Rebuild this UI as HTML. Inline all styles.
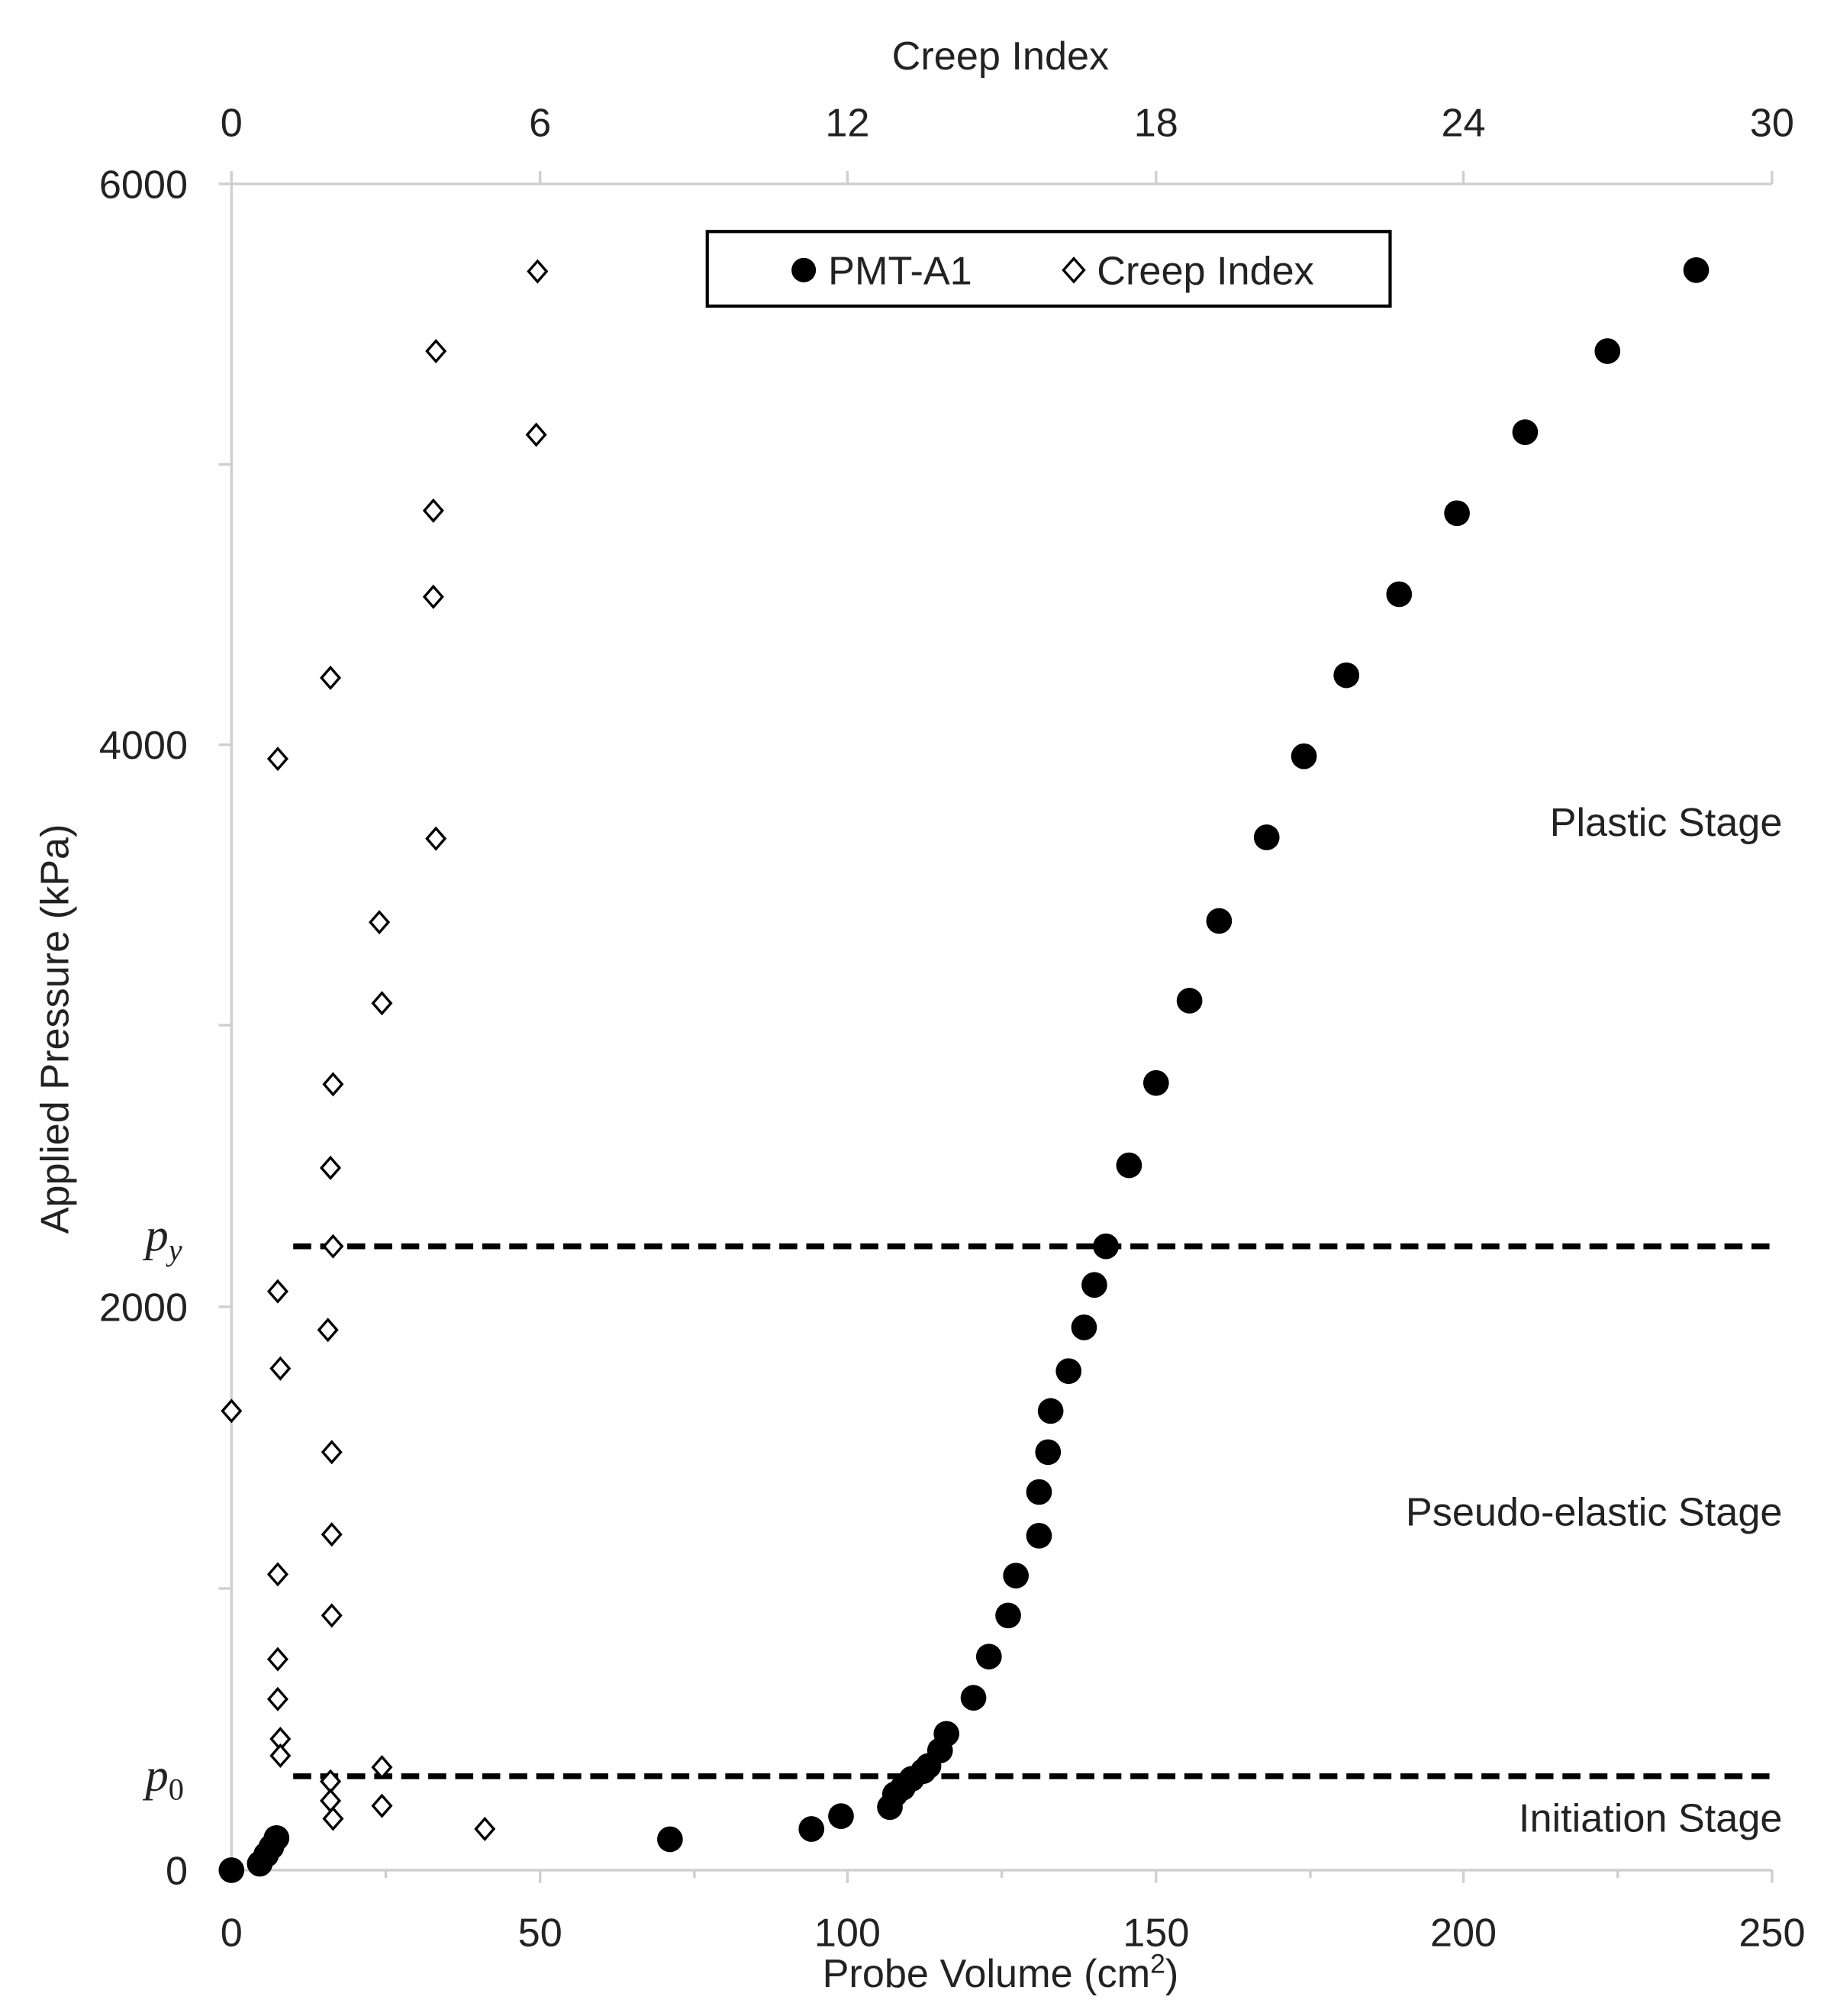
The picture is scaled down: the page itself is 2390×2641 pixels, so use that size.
<!DOCTYPE html>
<html><head><meta charset="utf-8"><style>
html,body{margin:0;padding:0;background:#fff;}
svg{display:block;}
text{font-family:"Liberation Sans",sans-serif;fill:#222;}
</style></head><body>
<svg width="2390" height="2641" viewBox="0 0 1418.4 1567.4" preserveAspectRatio="none" xmlns="http://www.w3.org/2000/svg">
<g stroke="#cfcfcf" stroke-width="2" fill="none">
<line x1="180" y1="143" x2="180" y2="1454"/>
<line x1="180" y1="1454" x2="1378" y2="1454"/>
<line x1="180" y1="143" x2="1378" y2="143"/>
<line x1="170" y1="143" x2="180" y2="143"/>
<line x1="170" y1="361" x2="180" y2="361"/>
<line x1="170" y1="579" x2="180" y2="579"/>
<line x1="170" y1="797" x2="180" y2="797"/>
<line x1="170" y1="1016" x2="180" y2="1016"/>
<line x1="170" y1="1235" x2="180" y2="1235"/>
<line x1="170" y1="1454" x2="180" y2="1454"/>
<line x1="420" y1="1454" x2="420" y2="1464"/>
<line x1="659" y1="1454" x2="659" y2="1464"/>
<line x1="899" y1="1454" x2="899" y2="1464"/>
<line x1="1138" y1="1454" x2="1138" y2="1464"/>
<line x1="1378" y1="1454" x2="1378" y2="1464"/>
<line x1="300" y1="1454" x2="300" y2="1460"/>
<line x1="540" y1="1454" x2="540" y2="1460"/>
<line x1="779" y1="1454" x2="779" y2="1460"/>
<line x1="1019" y1="1454" x2="1019" y2="1460"/>
<line x1="1258" y1="1454" x2="1258" y2="1460"/>
<line x1="180" y1="143" x2="180" y2="133"/>
<line x1="420" y1="143" x2="420" y2="133"/>
<line x1="659" y1="143" x2="659" y2="133"/>
<line x1="899" y1="143" x2="899" y2="133"/>
<line x1="1138" y1="143" x2="1138" y2="133"/>
<line x1="1378" y1="143" x2="1378" y2="133"/>
</g>
<g font-size="31" text-anchor="end">
<text x="146" y="154">6000</text>
<text x="146" y="590">4000</text>
<text x="146" y="1027">2000</text>
<text x="146" y="1465">0</text>
</g>
<g font-size="31" text-anchor="middle">
<text x="180" y="1513">0</text><text x="420" y="1513">50</text><text x="659" y="1513">100</text>
<text x="899" y="1513">150</text><text x="1138" y="1513">200</text><text x="1378" y="1513">250</text>
<text x="180" y="106">0</text><text x="420" y="106">6</text><text x="659" y="106">12</text>
<text x="899" y="106">18</text><text x="1138" y="106">24</text><text x="1378" y="106">30</text>
<text x="778" y="54">Creep Index</text>
<text x="778" y="1545">Probe Volume (cm<tspan font-size="21" dy="-11">2</tspan><tspan dy="11">)</tspan></text>
<text transform="translate(53,800) rotate(-90)">Applied Pressure (kPa)</text>
</g>
<g font-size="31" text-anchor="end">
<text x="1386" y="650">Plastic Stage</text>
<text x="1386" y="1186">Pseudo-elastic Stage</text>
<text x="1386" y="1424">Initiation Stage</text>
</g>
<g font-style="italic" font-size="36">
<text x="113" y="972" style="font-family:'Liberation Serif',serif">p<tspan font-size="24" dy="8">y</tspan></text>
<text x="113" y="1392" style="font-family:'Liberation Serif',serif">p<tspan font-size="24" dy="7" font-style="normal">0</tspan></text>
</g>
<g stroke="#000" stroke-width="4.5" stroke-dasharray="14,7">
<line x1="228" y1="969" x2="1378" y2="969"/>
<line x1="228" y1="1381" x2="1378" y2="1381"/>
</g>
<rect x="550" y="180" width="531" height="58" fill="#fff" stroke="#000" stroke-width="2.5"/>
<circle cx="625" cy="210" r="9.5" fill="#000"/>
<text x="644" y="221" font-size="31">PMT-A1</text>
<path d="M835 201 L843 210 L835 219 L827 210 Z" fill="#fff" stroke="#000" stroke-width="2"/>
<text x="853" y="221" font-size="31">Creep Index</text>
<g fill="#000">
<circle cx="180" cy="1454" r="10"/><circle cx="202" cy="1449" r="10"/><circle cx="207" cy="1442" r="10"/>
<circle cx="211" cy="1436" r="10"/><circle cx="215" cy="1429" r="10"/><circle cx="521" cy="1430" r="10"/>
<circle cx="631" cy="1422" r="10"/><circle cx="654" cy="1412" r="10"/><circle cx="692" cy="1405" r="10"/>
<circle cx="696" cy="1395" r="10"/><circle cx="702" cy="1390" r="10"/><circle cx="709" cy="1383" r="10"/>
<circle cx="718" cy="1377" r="10"/><circle cx="722" cy="1373" r="10"/><circle cx="731" cy="1361" r="10"/>
<circle cx="736" cy="1348" r="10"/><circle cx="757" cy="1320" r="10"/><circle cx="769" cy="1288" r="10"/>
<circle cx="784" cy="1256" r="10"/><circle cx="790" cy="1225" r="10"/><circle cx="808" cy="1194" r="10"/>
<circle cx="808" cy="1160" r="10"/><circle cx="815" cy="1129" r="10"/><circle cx="817" cy="1097" r="10"/>
<circle cx="831" cy="1066" r="10"/><circle cx="843" cy="1032" r="10"/><circle cx="851" cy="999" r="10"/>
<circle cx="860" cy="969" r="10"/><circle cx="878" cy="906" r="10"/><circle cx="899" cy="842" r="10"/>
<circle cx="925" cy="778" r="10"/><circle cx="948" cy="716" r="10"/><circle cx="985" cy="651" r="10"/>
<circle cx="1014" cy="588" r="10"/><circle cx="1047" cy="525" r="10"/><circle cx="1088" cy="462" r="10"/>
<circle cx="1133" cy="399" r="10"/><circle cx="1186" cy="336" r="10"/><circle cx="1250" cy="273" r="10"/>
<circle cx="1319" cy="210" r="10"/>
</g>
<g fill="#fff" stroke="#000" stroke-width="2">
<path d="M418 203l7 8-7 8-7-8z"/><path d="M339 265l7 8-7 8-7-8z"/><path d="M417 330l7 8-7 8-7-8z"/>
<path d="M337 389l7 8-7 8-7-8z"/><path d="M337 456l7 8-7 8-7-8z"/><path d="M257 519l7 8-7 8-7-8z"/>
<path d="M216 582l7 8-7 8-7-8z"/><path d="M339 644l7 8-7 8-7-8z"/><path d="M295 709l7 8-7 8-7-8z"/>
<path d="M297 772l7 8-7 8-7-8z"/><path d="M259 835l7 8-7 8-7-8z"/><path d="M257 900l7 8-7 8-7-8z"/>
<path d="M259 961l7 8-7 8-7-8z"/><path d="M216 996l7 8-7 8-7-8z"/><path d="M255 1026l7 8-7 8-7-8z"/>
<path d="M218 1056l7 8-7 8-7-8z"/><path d="M180 1089l7 8-7 8-7-8z"/><path d="M258 1121l7 8-7 8-7-8z"/>
<path d="M258 1185l7 8-7 8-7-8z"/><path d="M216 1216l7 8-7 8-7-8z"/><path d="M258 1248l7 8-7 8-7-8z"/>
<path d="M216 1282l7 8-7 8-7-8z"/><path d="M216 1313l7 8-7 8-7-8z"/><path d="M218 1344l7 8-7 8-7-8z"/>
<path d="M218 1357l7 8-7 8-7-8z"/><path d="M297 1366l7 8-7 8-7-8z"/><path d="M257 1377l7 8-7 8-7-8z"/>
<path d="M257 1392l7 8-7 8-7-8z"/><path d="M297 1396l7 8-7 8-7-8z"/><path d="M259 1406l7 8-7 8-7-8z"/>
<path d="M377 1414l7 8-7 8-7-8z"/>
</g>
</svg>
</body></html>
